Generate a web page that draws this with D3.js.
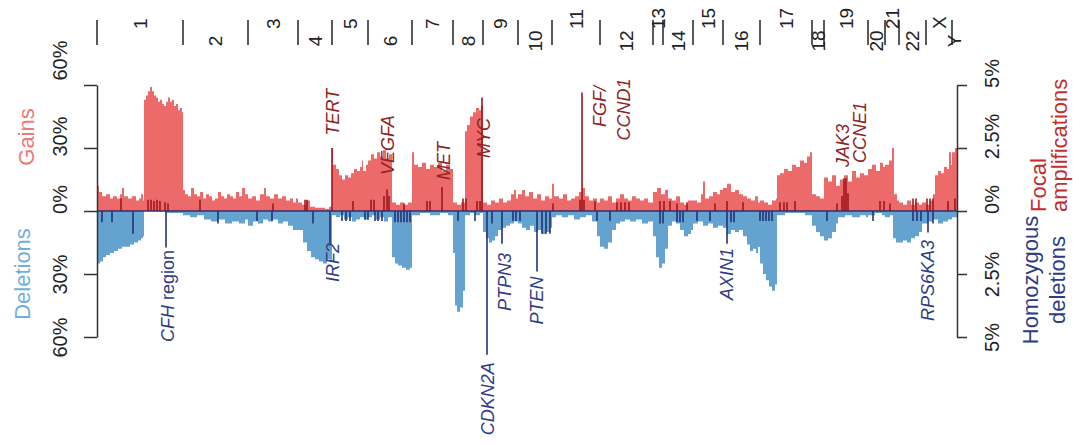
<!DOCTYPE html>
<html>
<head>
<meta charset="utf-8">
<script src="https://cdn.jsdelivr.net/npm/d3@7"></script>
<style>
  body { margin: 0; background: #fff; }
  text { font-family: "Liberation Sans", Arial, Helvetica, sans-serif; }
</style>
</head>
<body>
<svg id="chart" width="1073" height="445"></svg>
<script>
// chromosomes, positions in genome index bins
var chromNames = ["1","2","3","4","5","6","7","8","9","10","11","12","13","14","15","16","17","18","19","20","21","22","X","Y"];
var chromStart = [0, 86, 151, 201, 235, 271, 315, 356, 386, 421, 455, 503, 556, 566, 596, 626, 663, 715, 727, 771, 788, 802, 829, 855];
var genomeEnd = 860;

// broad gains (% of samples)
var gainPos = [0,2,5,9,13,16,20,23,25,27,31,35,39,42,44,46,
  47,49,51,53,55,57,59,61,63,65,67,69,71,73,75,77,79,81,83,85,
  86,88,91,94,97,100,103,106,109,112,115,118,121,124,127,130,133,136,139,142,145,148,
  151,155,159,163,167,169,173,177,181,185,189,193,196,199,
  201,205,209,213,218,223,228,232,
  235,236,239,242,245,248,251,254,257,260,263,265,266,269,
  271,274,277,280,283,286,289,292,295,299,303,307,311,
  315,317,321,325,329,333,337,341,345,349,353,
  356,360,364,368,370,373,376,379,382,384,
  386,390,394,398,402,406,410,414,417,419,
  421,425,428,432,436,440,444,448,452,
  455,457,462,466,470,474,478,482,485,488,492,496,500,
  503,507,511,515,519,523,527,531,535,539,543,547,551,
  556,560,564,568,
  571,575,579,583,587,591,
  596,600,604,606,608,612,616,620,623,
  626,630,634,638,642,646,650,654,658,661,
  663,667,671,675,679,680,683,687,691,695,699,703,707,710,713,
  715,719,723,
  727,731,735,739,743,747,751,755,759,763,767,
  771,775,779,783,786,
  788,792,795,797,800,
  802,806,810,814,818,822,
  825,829,833,836,838,841,844,847,850,852,854,
  855,858];
var gainPct = [12,9,7,8,6,7,6,8,11,7,6,7,5,6,8,5,
  53,55,57,59,57,55,54,52,53,51,50,52,54,52,53,50,51,48,49,47,
  10,8,7,11,8,7,9,6,8,7,5,6,9,7,6,8,7,6,9,7,11,8,
  6,7,5,8,11,7,6,8,6,7,5,6,4,6,
  4,3,5,2,1.5,1.5,1,2,
  30,22,20,17,15,17,16,18,20,19,21,24,19,22,
  24,27,25,28,26,29,25,27,4,3,4,3,4,
  28,22,21,23,20,22,21,23,19,22,20,
  4,3,4,38,41,45,47,49,48,50,
  4,3,5,4,6,4,5,8,10,6,
  8,10,7,9,6,8,5,7,6,
  13,7,6,8,5,6,7,9,11,7,5,6,4,
  6,5,7,4,6,8,6,5,7,6,5,6,4,
  9,11,8,10,
  6,5,7,4,3,5,
  5,4,8,14,6,7,9,8,10,
  11,13,9,10,8,7,6,5,7,4,
  5,4,3,5,6,17,18,20,19,22,21,24,23,26,28,
  8,7,6,
  16,14,17,12,15,17,14,19,16,18,17,
  20,22,19,23,21,
  22,24,30,8,5,
  4,3,5,3,4,3,
  4,3,5,8,17,19,18,21,20,28,22,
  28,30];

// broad deletions (% of samples)
var lossPos = [0,3,6,9,13,17,21,25,29,33,37,41,44,46,
  47,69,
  86,93,100,107,114,121,128,135,142,148,
  151,156,161,166,171,176,181,186,191,196,
  201,206,210,214,218,222,226,230,233,
  235,239,243,247,251,255,259,263,267,
  271,275,279,283,287,291,295,298,301,305,309,313,
  315,323,333,343,351,
  356,358,360,363,366,368,373,378,383,
  386,389,392,395,398,401,405,409,413,417,
  421,425,429,433,437,441,445,449,453,
  455,459,465,471,477,483,489,495,500,
  503,507,511,515,519,523,528,533,539,545,551,
  556,559,562,565,568,
  571,575,579,583,587,591,594,
  596,601,606,611,616,621,
  626,630,634,638,642,646,650,653,656,659,661,
  663,666,669,672,675,678,680,688,698,708,
  715,719,723,727,731,735,739,741,748,755,763,769,
  771,778,785,
  788,793,796,799,
  802,806,810,814,818,822,
  825,831,836,841,846,851,
  855];
var lossPct = [25,24,22,21,20,19,18,17,17,16,15,14,13,12,
  0,1,
  2,3,2,4,5,4,6,5,6,4,
  7,5,6,4,5,4,6,5,7,9,
  9,15,19,22,23,24,25,23,24,
  2,3,2,4,3,5,4,3,4,
  3,2,4,3,5,3,22,25,26,27,28,27,
  2,1,2,1,2,
  20,45,48,46,38,2,1,2,1,
  10,13,15,14,12,9,8,7,6,5,
  6,8,9,7,10,9,11,10,8,
  3,2,3,2,4,3,2,5,12,
  17,18,15,9,6,5,4,5,4,6,5,
  12,22,27,25,18,
  7,5,6,9,12,11,9,
  6,5,7,6,8,7,
  8,11,9,10,9,12,16,19,18,20,17,
  25,30,33,36,38,35,2,1,1,2,
  7,10,12,14,13,10,6,3,2,3,2,3,
  2,1,2,
  3,2,13,15,
  15,14,15,13,12,10,
  6,5,4,6,5,4,
  3];

// focal amplifications (% of samples)
var ampPos = [24,51,54,57,60,63,68,71,103,176,208,210,235,256,274,277,287,290,292,307,330,333,345,366,369,380,383,385,
  456,483,485,487,498,520,524,528,532,563,567,573,580,590,618,630,646,683,687,690,698,740,745,747,749,751,783,787,793,816,819,830,833,836,851,858];
var ampPct = [0.5,0.45,0.45,0.4,0.45,0.4,0.35,0.3,0.45,0.3,0.45,0.45,2.5,0.4,0.45,0.45,0.6,0.85,0.6,0.3,0.4,0.4,0.95,0.5,0.5,0.4,0.4,4.5,
  0.3,0.45,4.7,0.45,0.4,0.35,0.35,0.35,0.35,0.4,0.4,0.4,0.3,0.35,0.3,0.4,0.35,0.35,0.35,0.35,0.4,0.3,0.6,1.3,1.3,0.7,0.4,0.4,0.3,0.5,0.5,0.5,0.5,0.5,0.4,0.5];

// homozygous deletions (% of samples)
var homdelPos = [5,15,36,69,121,160,175,216,233,245,249,253,268,271,278,281,285,298,301,304,307,310,313,361,378,390,395,405,416,419,423,440,445,449,453,
  500,513,563,566,580,583,586,600,613,630,634,637,663,666,669,672,675,730,776,816,820,824,831,836];
var homdelPct = [0.45,0.45,0.9,1.45,0.5,0.4,0.4,0.5,1.3,0.4,0.4,0.4,0.35,0.35,0.4,0.4,0.4,0.45,0.45,0.45,0.45,0.45,0.45,0.4,0.4,5.7,0.5,1.3,0.4,0.4,0.4,2.4,0.9,0.9,0.9,
  0.4,0.4,0.5,0.5,0.45,0.45,0.45,0.4,0.4,1.3,0.45,0.45,0.4,0.4,0.4,0.4,0.4,0.4,0.4,0.4,0.4,0.4,0.85,0.5];

// gene annotations: label position (bin) and label start (% on focal scale)
var ampGenes = ["TERT","VEGFA","MET","MYC","FGF/","CCND1","JAK3","CCNE1"];
var ampGenePos = [236, 291, 347, 387, 503, 527, 746, 763];
var ampGeneAt = [3.0, 1.43, 1.23, 2.1, 3.33, 2.8, 1.75, 1.9];
var delGenes = ["CFH","IRF2","CDKN2A","PTPN3","PTEN","AXIN1","RPS6KA3"];
var delGenePos = [71, 236, 391, 408, 440, 630, 831];
var delGeneAt = [1.55, 1.27, 6.0, 1.67, 2.6, 1.47, 1.15];

var pctTicks = [0, 30, 60];
var focalTicks = [0, 2.5, 5];

var svg = d3.select("#chart");

var x = d3.scaleLinear().domain([0, genomeEnd]).range([97, 957]);
var yGain = d3.scaleLinear().domain([0, 60]).range([211, 85]);
var yLoss = d3.scaleLinear().domain([0, 60]).range([211, 337]);
var yAmp = d3.scaleLinear().domain([0, 5]).range([211, 85]);
var yDel = d3.scaleLinear().domain([0, 5]).range([211, 337]);

var gainData = d3.zip(gainPos, gainPct);
gainData.push([genomeEnd, gainPct[gainPct.length - 1]]);
var lossData = d3.zip(lossPos, lossPct);
lossData.push([genomeEnd, lossPct[lossPct.length - 1]]);

// areas
svg.append("path")
  .datum(gainData)
  .attr("fill", "#ec6a6a")
  .attr("d", d3.area()
    .x(function(d) { return x(d[0]); })
    .y0(yGain(0))
    .y1(function(d) { return yGain(d[1]); })
    .curve(d3.curveStepAfter));

svg.append("path")
  .datum(lossData)
  .attr("fill", "#64a3cf")
  .attr("d", d3.area()
    .x(function(d) { return x(d[0]); })
    .y0(yLoss(0))
    .y1(function(d) { return yLoss(d[1]); })
    .curve(d3.curveStepAfter));

// focal bars
svg.append("g").selectAll("line")
  .data(d3.zip(ampPos, ampPct))
  .enter().append("line")
    .attr("x1", function(d) { return x(d[0]); })
    .attr("x2", function(d) { return x(d[0]); })
    .attr("y1", yAmp(0))
    .attr("y2", function(d) { return yAmp(d[1]); })
    .attr("stroke", "#a3161b")
    .attr("stroke-width", 1.6);

svg.append("g").selectAll("line")
  .data(d3.zip(homdelPos, homdelPct))
  .enter().append("line")
    .attr("x1", function(d) { return x(d[0]); })
    .attr("x2", function(d) { return x(d[0]); })
    .attr("y1", yDel(0))
    .attr("y2", function(d) { return yDel(d[1]); })
    .attr("stroke", "#23307a")
    .attr("stroke-width", 1.6);

// zero line
svg.append("line")
  .attr("x1", x(0)).attr("x2", x(genomeEnd))
  .attr("y1", yGain(0)).attr("y2", yGain(0))
  .attr("stroke", "#3b2c6a")
  .attr("stroke-width", 1.5);

// axes (labels on the upper half sit a little above their ticks)
function styleAxis(g, dx, lift) {
  g.selectAll("path, line").attr("stroke", "#333").attr("stroke-width", 1.5);
  g.selectAll("text")
    .attr("x", 0).attr("y", 0).attr("dy", "0.35em")
    .attr("text-anchor", "middle")
    .attr("transform", function(d) { return "translate(" + dx + "," + lift(d) + ") rotate(-90)"; })
    .attr("fill", "#222")
    .style("font-size", "20px")
    .style("font-family", "Liberation Sans, Arial, sans-serif");
}

var fmtPct = function(d) { return d + "%"; };
var noLift = function() { return 0; };

svg.append("g")
  .attr("transform", "translate(97,0)")
  .call(d3.axisLeft(yGain).tickValues(pctTicks).tickSize(13).tickSizeOuter(0).tickFormat(fmtPct))
  .call(styleAxis, -37, function(d) { return d === 60 ? -25 : -12; });
svg.append("g")
  .attr("transform", "translate(97,0)")
  .call(d3.axisLeft(yLoss).tickValues(pctTicks.slice(1)).tickSize(13).tickSizeOuter(0).tickFormat(fmtPct))
  .call(styleAxis, -37, noLift);
svg.append("g")
  .attr("transform", "translate(957,0)")
  .call(d3.axisRight(yAmp).tickValues(focalTicks).tickSize(10).tickSizeOuter(0).tickFormat(fmtPct))
  .call(styleAxis, 35, function() { return -12; });
svg.append("g")
  .attr("transform", "translate(957,0)")
  .call(d3.axisRight(yDel).tickValues(focalTicks.slice(1)).tickSize(10).tickSizeOuter(0).tickFormat(fmtPct))
  .call(styleAxis, 35, noLift);

// chromosome ticks and labels
var chrom = svg.append("g").selectAll("g")
  .data(chromNames)
  .enter().append("g");

chrom.append("line")
  .attr("x1", function(d, i) { return x(chromStart[i]); })
  .attr("x2", function(d, i) { return x(chromStart[i]); })
  .attr("y1", 20).attr("y2", 45)
  .attr("stroke", "#222")
  .attr("stroke-width", 1.5);

chrom.append("text")
  .attr("transform", function(d, i) {
    var end = i < chromNames.length - 1 ? chromStart[i + 1] : genomeEnd;
    var cx = x((chromStart[i] + end) / 2);
    return "translate(" + cx + "," + (i % 2 === 0 ? 29 : 41) + ") rotate(-90)";
  })
  .attr("dy", "0.35em")
  .attr("text-anchor", function(d, i) { return i % 2 === 0 ? "start" : "middle"; })
  .style("font-size", "19px")
  .attr("fill", "#222")
  .text(function(d) { return d; });

// gene labels
svg.append("g").selectAll("text")
  .data(ampGenes)
  .enter().append("text")
    .attr("transform", function(d, i) {
      return "translate(" + x(ampGenePos[i]) + "," + yAmp(ampGeneAt[i]) + ") rotate(-90)";
    })
    .attr("dy", "0.35em")
    .attr("text-anchor", "start")
    .style("font-size", "18px")
    .style("font-style", "italic")
    .attr("fill", "#8e2424")
    .text(function(d) { return d; });

var delText = svg.append("g").selectAll("text")
  .data(delGenes)
  .enter().append("text")
    .attr("transform", function(d, i) {
      return "translate(" + x(delGenePos[i]) + "," + yDel(delGeneAt[i]) + ") rotate(-90)";
    })
    .attr("dy", "0.35em")
    .attr("text-anchor", "end")
    .style("font-size", "18px")
    .attr("fill", "#2f3c85");
delText.append("tspan")
  .style("font-style", "italic")
  .text(function(d) { return d; });
delText.filter(function(d) { return d === "CFH"; })
  .append("tspan")
  .text(" region");

// axis titles
function title(txt, tx, ty, anchor, color) {
  svg.append("text")
    .attr("transform", "translate(" + tx + "," + ty + ") rotate(-90)")
    .attr("dy", "0.35em")
    .attr("text-anchor", anchor)
    .style("font-size", "22px")
    .attr("fill", color)
    .text(txt);
}
title("Gains", 26, 137, "middle", "#ef7878");
title("Deletions", 22, 274, "middle", "#6fb0da");
title("Focal", 1038, 212, "start", "#c0302f");
title("amplifications", 1059, 212, "start", "#c0302f");
title("Homozygous", 1030, 280, "middle", "#2d3b86");
title("deletions", 1057, 280, "middle", "#2d3b86");
</script>
</body>
</html>
